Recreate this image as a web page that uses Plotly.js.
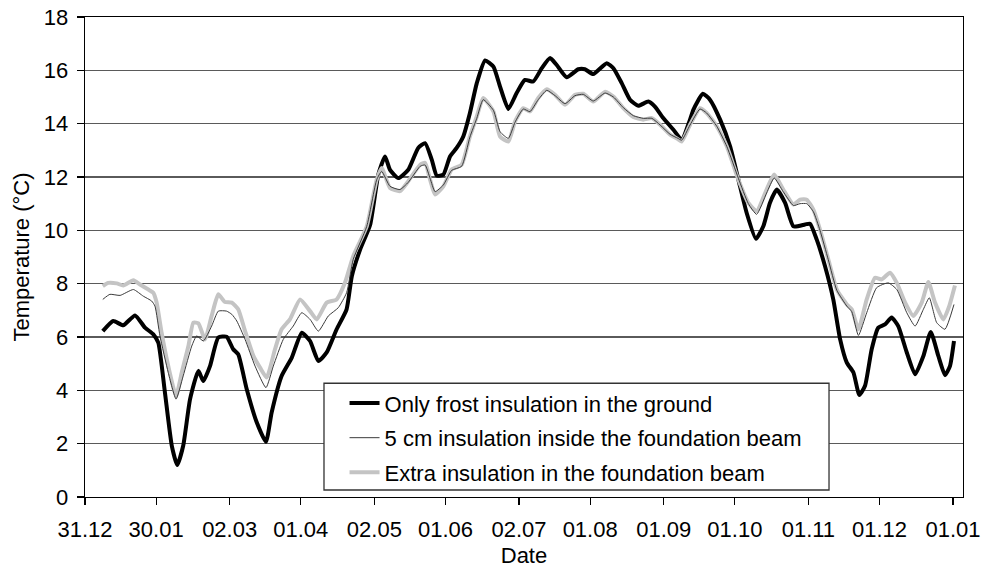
<!DOCTYPE html>
<html>
<head>
<meta charset="utf-8">
<script src="https://cdn.plot.ly/plotly-3.0.1.min.js"></script>
<style>html,body{margin:0;padding:0;background:#fff;}#chart{width:981px;height:573px;}</style>
</head>
<body>
<div id="chart"></div>
<script>
// Days after 31.12
var tickDays = [0, 30, 61, 91, 122, 152, 183, 213, 244, 274, 305, 335, 366];
var tickLabels = ["31.12", "30.01", "02.03", "01.04", "02.05", "01.06", "02.07", "01.08", "01.09", "01.10", "01.11", "01.12", "01.01"];

var frostDays = [7.5, 11.9, 16.1, 21.1, 25.3, 28.8, 30.9, 33.7, 36.6, 38.9, 41.4, 44.3, 47.8, 49.9, 52.7, 56.2, 59.7, 62.5, 64.6, 68.2, 72.4, 76.3, 78.7, 82.9, 87.2, 91.4, 94.9, 98.4, 101.9, 106.1, 110.3, 112.5, 116.0, 120.2, 123.7, 126.5, 128.6, 132.1, 136.3, 140.5, 143.4, 146.2, 148.3, 151.1, 153.9, 156.7, 159.5, 162.3, 165.2, 168.7, 172.2, 175.0, 178.5, 182.0, 185.5, 189.0, 192.6, 196.1, 198.9, 203.1, 208.0, 210.8, 214.3, 220.0, 222.8, 226.3, 229.8, 233.3, 237.5, 240.3, 243.8, 248.1, 251.6, 255.1, 256.5, 260.5, 263.5, 267.8, 272.0, 275.5, 279.0, 282.9, 286.0, 288.8, 291.7, 295.2, 298.7, 303.6, 305.7, 308.5, 312.0, 315.5, 318.4, 321.2, 324.0, 326.5, 328.9, 331.7, 334.5, 337.3, 340.1, 342.9, 346.5, 350.0, 353.5, 356.6, 359.8, 362.6, 364.7, 366.4];
var frostTemp = [6.22, 6.6, 6.44, 6.81, 6.35, 6.1, 5.79, 3.92, 1.92, 1.2, 1.92, 3.67, 4.73, 4.35, 4.91, 5.98, 6.01, 5.54, 5.35, 4.04, 2.8, 2.07, 3.17, 4.54, 5.23, 6.16, 5.85, 5.1, 5.42, 6.29, 7.04, 8.28, 9.28, 10.2, 12.1, 12.77, 12.27, 11.96, 12.27, 13.09, 13.27, 12.65, 12.05, 12.09, 12.77, 13.09, 13.52, 14.4, 15.52, 16.37, 16.14, 15.39, 14.55, 15.15, 15.64, 15.58, 16.08, 16.46, 16.2, 15.74, 16.04, 16.04, 15.86, 16.27, 16.08, 15.52, 14.9, 14.67, 14.83, 14.64, 14.21, 13.77, 13.4, 14.15, 14.52, 15.12, 14.9, 14.15, 13.15, 11.9, 10.65, 9.68, 10.15, 11.03, 11.53, 11.03, 10.15, 10.22, 10.25, 9.66, 8.66, 7.41, 5.91, 5.04, 4.67, 3.82, 4.17, 5.54, 6.35, 6.47, 6.73, 6.41, 5.42, 4.6, 5.29, 6.19, 5.29, 4.57, 4.91, 5.85];

var beamDays = [7.5, 10.5, 14.8, 20.4, 24.6, 28.1, 29.5, 31.6, 35.1, 38.4, 41.4, 45.0, 47.1, 49.9, 53.4, 56.2, 59.7, 61.9, 64.0, 67.5, 71.7, 76.3, 79.4, 83.6, 87.8, 91.4, 94.9, 98.4, 102.6, 106.8, 110.3, 113.1, 118.8, 123.0, 125.1, 128.6, 132.8, 136.3, 141.3, 143.4, 145.5, 147.6, 151.1, 154.6, 158.8, 162.3, 165.2, 167.9, 172.2, 175.0, 178.5, 181.3, 184.8, 187.6, 191.1, 194.7, 198.2, 202.4, 206.6, 210.1, 214.3, 219.3, 222.8, 227.0, 231.2, 235.4, 239.0, 242.5, 246.7, 250.0, 251.6, 255.1, 259.3, 262.1, 266.4, 270.6, 275.5, 279.7, 283.2, 287.4, 290.6, 294.4, 298.7, 301.5, 304.3, 307.1, 309.9, 313.4, 317.0, 321.2, 323.3, 326.1, 329.6, 333.8, 338.7, 342.3, 346.5, 350.0, 353.5, 356.0, 359.1, 362.6, 366.4];
var beamTemp = [7.41, 7.6, 7.56, 7.78, 7.53, 7.35, 7.16, 6.04, 4.67, 3.67, 4.54, 5.66, 6.04, 5.85, 6.41, 6.97, 6.97, 6.85, 6.6, 5.91, 4.91, 4.1, 4.91, 5.91, 6.41, 6.91, 6.66, 6.22, 6.79, 7.1, 7.66, 8.91, 10.15, 11.9, 12.21, 11.65, 11.53, 11.8, 12.4, 12.45, 11.95, 11.45, 11.7, 12.25, 12.4, 13.5, 14.2, 14.9, 14.5, 13.7, 13.45, 14.05, 14.55, 14.45, 14.9, 15.25, 15.05, 14.75, 15.05, 15.1, 14.85, 15.15, 15.0, 14.6, 14.3, 14.2, 14.2, 13.95, 13.6, 13.45, 13.38, 13.95, 14.55, 14.4, 13.9, 13.15, 11.95, 11.0, 10.6, 11.4, 11.96, 11.45, 10.93, 11.0, 11.0, 10.7, 10.0, 8.9, 7.75, 7.16, 6.95, 6.06, 6.91, 7.85, 8.03, 7.78, 6.91, 6.41, 7.04, 7.47, 6.54, 6.29, 7.22];

var extraDays = [7.5, 9.8, 13.4, 16.1, 20.4, 23.2, 26.7, 28.8, 30.2, 32.3, 35.1, 38.4, 40.8, 43.6, 45.7, 47.8, 50.6, 53.4, 56.2, 59.0, 61.9, 64.6, 67.5, 71.0, 73.8, 76.6, 80.1, 82.9, 86.4, 90.7, 94.9, 97.7, 101.9, 106.1, 109.6, 113.1, 118.8, 123.0, 125.1, 128.6, 132.8, 136.3, 141.3, 143.4, 145.5, 147.6, 151.1, 154.6, 158.8, 162.3, 165.2, 167.9, 172.2, 175.0, 178.5, 181.3, 184.8, 187.6, 191.1, 194.7, 198.2, 202.4, 206.6, 210.1, 214.3, 219.3, 222.8, 227.0, 231.2, 235.4, 239.0, 242.5, 246.7, 250.0, 251.6, 255.1, 259.3, 262.1, 266.4, 270.6, 275.5, 279.7, 283.2, 287.4, 290.6, 294.4, 298.7, 301.5, 304.3, 307.1, 309.9, 313.4, 317.0, 321.2, 323.3, 326.1, 329.6, 333.1, 335.9, 339.4, 342.3, 345.8, 349.3, 352.8, 355.6, 358.4, 361.9, 364.4, 366.8];
var extraTemp = [7.91, 8.03, 8.01, 7.93, 8.13, 7.97, 7.78, 7.66, 7.29, 6.16, 4.91, 3.79, 4.67, 5.66, 6.54, 6.51, 5.91, 6.79, 7.6, 7.31, 7.29, 7.04, 6.22, 5.29, 4.85, 4.48, 5.54, 6.29, 6.66, 7.41, 6.97, 6.66, 7.29, 7.41, 8.03, 9.03, 10.15, 11.9, 12.34, 11.59, 11.47, 11.84, 12.46, 12.53, 11.9, 11.34, 11.65, 12.28, 12.46, 13.52, 14.27, 14.96, 14.46, 13.52, 13.33, 14.08, 14.58, 14.46, 14.96, 15.29, 15.08, 14.71, 15.08, 15.12, 14.83, 15.2, 15.02, 14.58, 14.25, 14.15, 14.21, 13.96, 13.59, 13.42, 13.33, 13.96, 14.58, 14.4, 13.9, 13.15, 11.9, 11.03, 10.72, 11.53, 12.09, 11.53, 10.97, 11.15, 11.15, 10.78, 10.03, 8.91, 7.78, 7.22, 7.04, 6.29, 7.41, 8.22, 8.16, 8.41, 8.03, 7.29, 6.79, 7.29, 8.06, 7.29, 6.66, 7.16, 7.93];

var seriesNames = ["Only frost insulation in the ground", "5 cm insulation inside the foundation beam", "Extra insulation in the foundation beam"];

var FONT = "'Liberation Sans', Arial, Helvetica, sans-serif";
var FS = 22;

var traces = [
  {x: frostDays, y: frostTemp, name: seriesNames[0], type: "scatter", mode: "lines",
   line: {color: "#000000", width: 4, shape: "spline", smoothing: 0.5},
   legendgroup: "a", legendrank: 1},
  {x: extraDays, y: extraTemp, name: seriesNames[2], type: "scatter", mode: "lines",
   line: {color: "#c4c4c4", width: 4, shape: "spline", smoothing: 0.5},
   legendgroup: "c", legendrank: 3},
  {x: beamDays, y: beamTemp, name: seriesNames[1], type: "scatter", mode: "lines",
   line: {color: "#3a3a3a", width: 1, shape: "spline", smoothing: 0.5},
   legendgroup: "b", legendrank: 2}
];

var layout = {
  width: 981, height: 573,
  margin: {l: 85, r: 18, t: 17, b: 76, pad: 0},
  paper_bgcolor: "#ffffff", plot_bgcolor: "#ffffff",
  font: {family: FONT, size: FS, color: "#000"},
  showlegend: true,
  xaxis: {
    range: [0, 370.2], tickmode: "array", tickvals: tickDays, ticktext: tickLabels,
    showgrid: false, zeroline: false, showline: true, linecolor: "#000", linewidth: 1.3, mirror: true,
    ticks: "outside", ticklen: 7, tickcolor: "#000", tickwidth: 1.3, ticklabelstandoff: 5,
    tickfont: {family: FONT, size: FS, color: "#000"},
    title: {text: "Date", font: {family: FONT, size: FS, color: "#000"}, standoff: 7},
    automargin: false, fixedrange: true
  },
  yaxis: {
    range: [0, 18], tickmode: "linear", tick0: 0, dtick: 2,
    showgrid: true, gridcolor: "#5a5a5a", gridwidth: 1.3, zeroline: false,
    showline: true, linecolor: "#000", linewidth: 1.3, mirror: true,
    ticks: "outside", ticklen: 7, tickcolor: "#000", tickwidth: 1.3, ticklabelstandoff: 4,
    tickfont: {family: FONT, size: FS, color: "#000"},
    title: {text: "Temperature (°C)", font: {family: FONT, size: FS, color: "#000"}, standoff: 8},
    automargin: false, fixedrange: true
  },
  shapes: [{
    type: "rect", xref: "paper", yref: "paper", layer: "above",
    x0: 0.2722, x1: 0.8474, y0: 0.0146, y1: 0.237,
    line: {color: "#333", width: 1.3}, fillcolor: "#ffffff"
  }],
  legend: {
    x: 0.2956, y: 0.239, xanchor: "left", yanchor: "top",
    bgcolor: "rgba(0,0,0,0)", borderwidth: 0,
    traceorder: "grouped", tracegroupgap: 3,
    font: {family: FONT, size: FS, color: "#000"}
  }
};

Plotly.newPlot("chart", traces, layout, {displayModeBar: false, staticPlot: true});
</script>
</body>
</html>
